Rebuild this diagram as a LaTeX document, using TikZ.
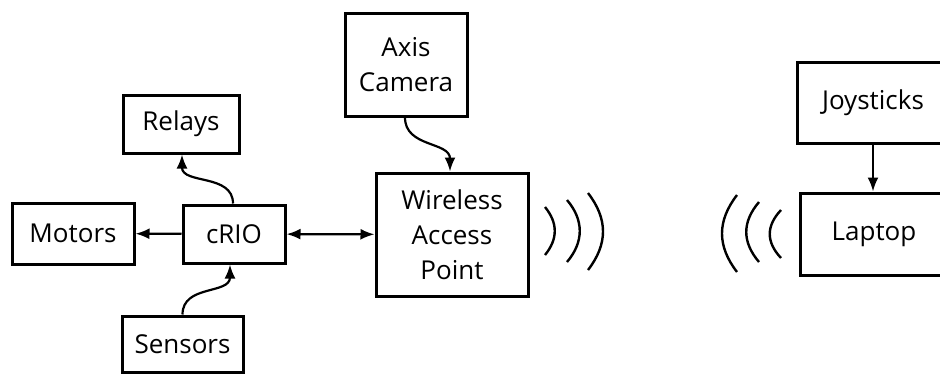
\documentclass[tikz,border=0pt]{standalone}
\usepackage{fontspec}
\setmainfont{Open Sans}
\usetikzlibrary{arrows.meta,positioning}

\begin{document}
\begin{tikzpicture}[
    x=1pt, y=-1pt,
    block/.style={rectangle, draw=black, line width=3pt, align=center, inner sep=0pt, font=\fontsize{26}{35}\selectfont},
    arrow/.style={-{Latex[length=14pt,width=11pt]}, line width=2.2pt},
    dblarrow/.style={{Latex[length=14pt,width=11pt]}-{Latex[length=14pt,width=11pt]}, line width=2.2pt},
    wave/.style={line width=2.4pt}
]
\useasboundingbox (0,0) rectangle (940,373);

% Robot side
\node[block, minimum width=122pt, minimum height=103pt] (camera) at (406,64.5) {Axis\\Camera};
\node[block, minimum width=116pt, minimum height=58pt] (relays) at (181,124) {Relays};
\node[block, minimum width=122pt, minimum height=61pt] (motors) at (73,233.5) {Motors};
\node[block, minimum width=102pt, minimum height=58pt] (crio) at (234,234) {cRIO};
\node[block, minimum width=121pt, minimum height=56pt] (sensors) at (182.5,344) {Sensors};
\node[block, minimum width=152pt, minimum height=123pt] (wap) at (452,234.5) {Wireless\\Access\\Point};

% Driver station
\node[block, minimum width=152pt, minimum height=81pt] (joysticks) at (873,102.5) {Joysticks};
\node[block, minimum width=148pt, minimum height=82pt] (laptop) at (874,234) {Laptop};

% Connections
\draw[arrow] (crio) -- (motors);
\draw[dblarrow] (crio) -- (wap);
\draw[arrow] ([xshift=-1pt]crio.north) .. controls +(0,-30) and +(0,30) .. ([xshift=1pt]relays.south);
\draw[arrow] (sensors.north) .. controls +(0,-30) and +(0,30) .. ([xshift=-4pt]crio.south);
\draw[arrow] ([xshift=-1pt]camera.south) .. controls +(0,30) and +(0,-30) .. ([xshift=-2pt]wap.north);
\draw[arrow] (joysticks.south) -- (joysticks.south |- laptop.north);

% Radio waves
\draw[wave] (545,207) .. controls (558,223) and (558,239) .. (545,255);
\draw[wave] (567,200) .. controls (584,220) and (584,242) .. (567,262);
\draw[wave] (588,193) .. controls (608,219) and (608,244) .. (588,270);
\draw[wave] (737,195) .. controls (717,221) and (717,246) .. (737,272);
\draw[wave] (759,202) .. controls (742,222) and (742,242) .. (759,262);
\draw[wave] (781,210) .. controls (766,226) and (766,242) .. (781,258);

\end{tikzpicture}
\end{document}
